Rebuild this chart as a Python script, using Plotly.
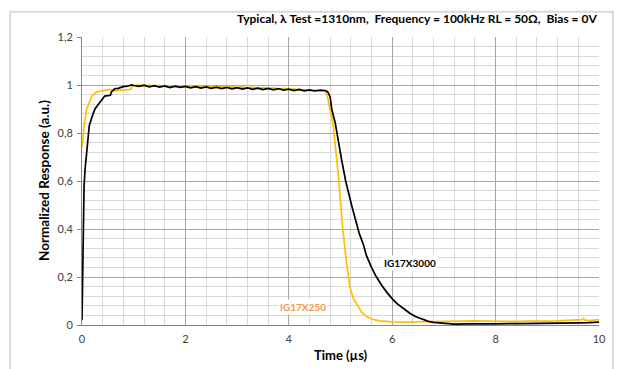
import plotly.graph_objects as go

# IG17X3000 pulse response
t_3000 = [0, 0.02, 0.04, 0.06, 0.08, 0.10, 0.14, 0.19, 0.25, 0.30, 0.34, 0.40, 0.44,
          0.50, 0.55, 0.57, 0.64, 0.70, 0.80, 0.88, 0.96,
          1.0, 1.1, 1.2, 1.3, 1.4, 1.5, 1.6, 1.7, 1.8, 1.9, 2.0, 2.1, 2.2, 2.3, 2.4,
          2.5, 2.6, 2.7, 2.8, 2.9, 3.0, 3.1, 3.2, 3.3, 3.4, 3.5, 3.6, 3.7, 3.8, 3.9,
          4.0, 4.1, 4.2, 4.3, 4.4, 4.5, 4.6, 4.7,
          4.75, 4.80, 4.83, 4.90, 5.02, 5.10, 5.22, 5.30, 5.36, 5.45, 5.50, 5.60,
          5.69, 5.80, 5.90, 6.02, 6.10, 6.20, 6.34, 6.45, 6.60, 6.70, 6.80, 6.98,
          7.2, 7.5, 7.8, 8.0, 8.5, 9.0, 9.3, 9.6, 9.8, 10.0]
r_3000 = [0.02, 0.35, 0.58, 0.65, 0.70, 0.76, 0.83, 0.865, 0.90, 0.915, 0.927, 0.945, 0.954,
          0.956, 0.957, 0.972, 0.985, 0.986, 0.993, 0.995, 1.0,
          0.998, 0.994, 0.999, 0.992, 0.997, 0.991, 0.996, 0.989, 0.995, 0.990, 0.994, 0.988,
          0.993, 0.987, 0.992, 0.986, 0.991, 0.985, 0.990, 0.984, 0.989, 0.983, 0.988, 0.982,
          0.987, 0.981, 0.986, 0.980, 0.985, 0.979, 0.983, 0.977, 0.982, 0.976, 0.980, 0.975,
          0.979, 0.977,
          0.972, 0.950, 0.900, 0.840, 0.690, 0.600, 0.495, 0.430, 0.383, 0.330, 0.290, 0.240,
          0.202, 0.165, 0.135, 0.105, 0.088, 0.072, 0.049, 0.035, 0.021, 0.015, 0.011, 0.007,
          0.004, 0.005, 0.004, 0.005, 0.006, 0.006, 0.007, 0.009, 0.010, 0.012]

# IG17X250 pulse response
t_250 = [0, 0.02, 0.04, 0.09, 0.14, 0.19, 0.28, 0.40, 0.54, 0.61, 0.70, 0.80, 0.90, 0.95,
         0.98, 1.1, 1.2, 1.3, 1.4, 1.5, 1.6, 1.7, 1.8, 1.9, 2.0, 2.1, 2.2, 2.3, 2.4, 2.5,
         2.6, 2.7, 2.8, 2.9, 3.0, 3.1, 3.2, 3.3, 3.4, 3.5, 3.6, 3.7, 3.8, 3.9, 4.0, 4.1,
         4.2, 4.3, 4.4, 4.5, 4.6, 4.7,
         4.75, 4.80, 4.86, 4.96, 5.04, 5.11, 5.18, 5.25, 5.34, 5.42, 5.51, 5.60, 5.76,
         5.9, 6.0, 6.2, 6.4, 6.6, 6.8, 7.0, 7.2, 7.4, 7.6, 7.8, 8.0, 8.2, 8.4, 8.6, 8.8,
         9.0, 9.2, 9.4, 9.6, 9.68, 9.70, 9.73, 9.8, 9.9, 10.0]
r_250 = [0.739, 0.79, 0.829, 0.899, 0.93, 0.954, 0.971, 0.977, 0.982, 0.976, 0.979, 0.980,
         0.981, 0.983,
         0.998, 1.0, 0.995, 0.999, 0.994, 0.998, 0.993, 0.997, 0.992, 0.997, 0.991, 0.996,
         0.992, 0.995, 0.990, 0.995, 0.989, 0.994, 0.989, 0.993, 0.988, 0.992, 0.987, 0.991,
         0.986, 0.990, 0.985, 0.988, 0.983, 0.986, 0.981, 0.984, 0.979, 0.981, 0.977, 0.979,
         0.975, 0.975,
         0.950, 0.900, 0.830, 0.620, 0.410, 0.270, 0.160, 0.110, 0.077, 0.050, 0.035, 0.025,
         0.017, 0.014, 0.013, 0.012, 0.013, 0.014, 0.013, 0.015, 0.014, 0.016, 0.017, 0.016,
         0.015, 0.016, 0.015, 0.016, 0.015, 0.016, 0.017, 0.018, 0.020, 0.022, 0.028, 0.020,
         0.018, 0.020, 0.022]

y_ticks = [0, 0.2, 0.4, 0.6, 0.8, 1.0, 1.2]
y_tick_text = ["0", "0,2", "0,4", "0,6", "0,8", "1", "1,2"]
x_ticks = [0, 2, 4, 6, 8, 10]

FONT = "Lato, 'Open Sans', sans-serif"

fig = go.Figure()
fig.add_trace(go.Scatter(x=t_250, y=r_250, mode="lines", name="IG17X250",
                         line=dict(color="#FFC000", width=1.7)))
fig.add_trace(go.Scatter(x=t_3000, y=r_3000, mode="lines", name="IG17X3000",
                         line=dict(color="#000000", width=1.7)))

fig.update_layout(
    width=622, height=369,
    margin=dict(l=82, r=23, t=37, b=44, autoexpand=False),
    paper_bgcolor="white", plot_bgcolor="white",
    showlegend=False,
    font=dict(family=FONT, size=11, color="#595959"),
    xaxis=dict(
        range=[0, 10], tickvals=x_ticks, ticks="", showline=True, linecolor="#868686",
        showgrid=True, gridcolor="#A6A6A6", gridwidth=1, zeroline=False,
        minor=dict(dtick=0.4, showgrid=True, gridcolor="#D9D9D9", gridwidth=1),
        tickfont=dict(size=11, color="#404040"),
        ticklabelstandoff=4, automargin=False,
    ),
    yaxis=dict(
        range=[0, 1.2], tickvals=y_ticks, ticktext=y_tick_text, ticks="outside",
        ticklen=4, tickcolor="#868686", showline=True, linecolor="#868686",
        showgrid=True, gridcolor="#A6A6A6", gridwidth=1, zeroline=False,
        minor=dict(dtick=0.04, showgrid=True, gridcolor="#D9D9D9", gridwidth=1),
        tickfont=dict(size=11, color="#404040"),
        ticklabelstandoff=2, automargin=False,
    ),
    shapes=[dict(type="rect", xref="paper", yref="paper",
                 x0=-0.139, x1=1.027, y0=-0.17, y1=1.088,
                 line=dict(color="#D9D9D9", width=2), fillcolor="rgba(0,0,0,0)",
                 layer="below")],
    annotations=[
        dict(text="<b>Typical, λ Test =1310nm,  Frequency = 100kHz RL = 50Ω,  Bias = 0V</b>",
             xref="paper", yref="paper", x=1.0, y=1.065, xanchor="right", yanchor="middle",
             showarrow=False, font=dict(size=12, color="#000000")),
        dict(text="<b>Time (µs)</b>", xref="paper", yref="paper", x=0.5, y=-0.104,
             xanchor="center", yanchor="middle", showarrow=False,
             font=dict(size=13, color="#000000")),
        dict(text="<b>Normalized Response (a.u.)</b>", xref="paper", yref="paper",
             x=-0.0735, y=0.5, xanchor="center", yanchor="middle", textangle=-90,
             showarrow=False, font=dict(size=13.5, color="#000000")),
        dict(text="<b>IG17X3000</b>", x=6.34, y=0.259, showarrow=False,
             bgcolor="white", font=dict(size=10, color="#000000")),
        dict(text="<b>IG17X250</b>", x=4.27, y=0.075, showarrow=False,
             bgcolor="white", font=dict(size=10, color="#F79646")),
    ],
)

fig.write_html("out.html")
